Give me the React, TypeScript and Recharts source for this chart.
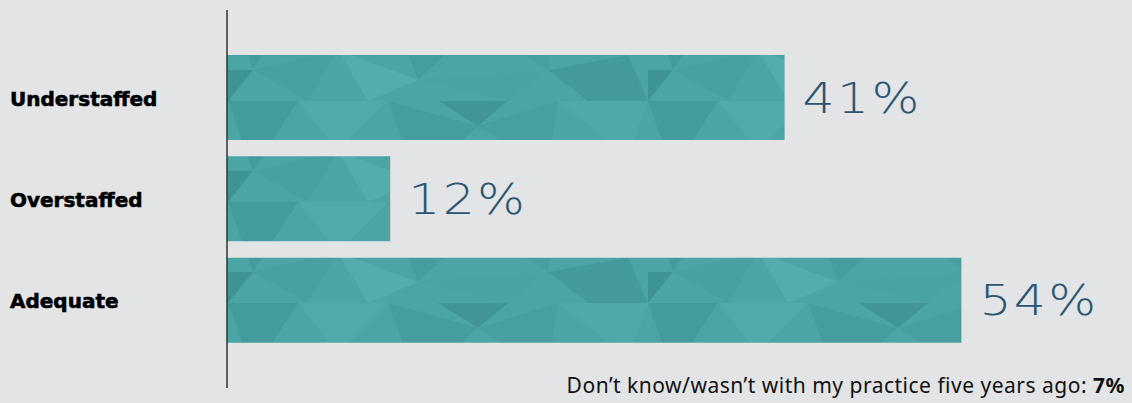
import React from 'react';
import {Bar, BarChart, LabelList, XAxis, YAxis} from 'recharts';

const categories = ['Understaffed', 'Overstaffed', 'Adequate'];
const values = [41, 12, 54];
const footnoteText = 'Don\u2019t know/wasn\u2019t with my practice five years ago: ';
const footnoteValue = '7%';

const data = categories.map((name, i) => ({name, value: values[i]}));

const BG = '#e3e4e6';

const CategoryTick = (props: any) => {
	const {y, payload} = props;
	return <text x={10} y={y} dy={8} textAnchor="start" fill="#000" stroke="#000" strokeWidth={0.6}
		style={{fontFamily: '"DejaVu Sans", sans-serif', fontWeight: 700, fontSize: 20}}>
		{payload.value}
	</text>;
};

const ValueLabel = (props: any) => {
	const {x, y, width, height, value} = props;
	return <text transform={`translate(${x + width + 18},${y + height / 2 + 15}) scale(1.2,1)`} fill="#2b5672"
		style={{fontFamily: '"DejaVu Sans ExtraLight", "DejaVu Sans", sans-serif', fontWeight: 200, fontSize: 42, letterSpacing: 2}}>
		{value}%
	</text>;
};

export default function App() {
	return <div style={{position: 'fixed', left: 0, top: 0, width: 1132, height: 403, background: BG}}>
		<BarChart width={1132} height={403} data={data} layout="vertical"
			margin={{top: 10, right: 89, bottom: 15, left: 0}} barCategoryGap={16}>
			<defs>
				<pattern id="facets" patternUnits="userSpaceOnUse" x={228} y={0} width={420} height={101}>
					<rect width={420} height={101} fill="#4ca5a5"/>
					<polygon points="0,0 70,0 25,70" fill="#449b9b"/>
					<polygon points="0,70 25,70 0,101" fill="#3f9393"/>
					<polygon points="70,0 160,0 110,50" fill="#50aaa9"/>
					<polygon points="160,0 250,25 190,80" fill="#469d9d"/>
					<polygon points="110,50 190,80 140,101" fill="#53adac"/>
					<polygon points="250,25 330,0 320,70" fill="#489f9f"/>
					<polygon points="190,80 320,70 280,101" fill="#4aa3a3"/>
					<polygon points="25,70 110,50 80,101" fill="#48a0a0"/>
					<polygon points="210,0 280,0 250,25" fill="#419595"/>
					<polygon points="330,0 420,0 400,55" fill="#4fa9a8"/>
					<polygon points="320,70 400,55 420,101 360,101" fill="#449a9a"/>
				</pattern>
			</defs>
			<XAxis type="number" domain={[0, 60]} hide/>
			<YAxis type="category" dataKey="name" width={227} tickLine={false}
				axisLine={{stroke: '#333', strokeWidth: 1.5}} tick={<CategoryTick/>}
				padding={{top: 37, bottom: 37}}/>
			<Bar dataKey="value" fill="url(#facets)" barSize={85} isAnimationActive={false}>
				<LabelList dataKey="value" content={<ValueLabel/>}/>
			</Bar>
		</BarChart>
		<div style={{position: 'absolute', right: 7, top: 371, fontFamily: '"Noto Sans", "Open Sans", sans-serif',
			fontSize: 21, letterSpacing: 0.5, color: '#111', whiteSpace: 'nowrap'}}>
			{footnoteText}<b>{footnoteValue}</b>
		</div>
	</div>;
}
